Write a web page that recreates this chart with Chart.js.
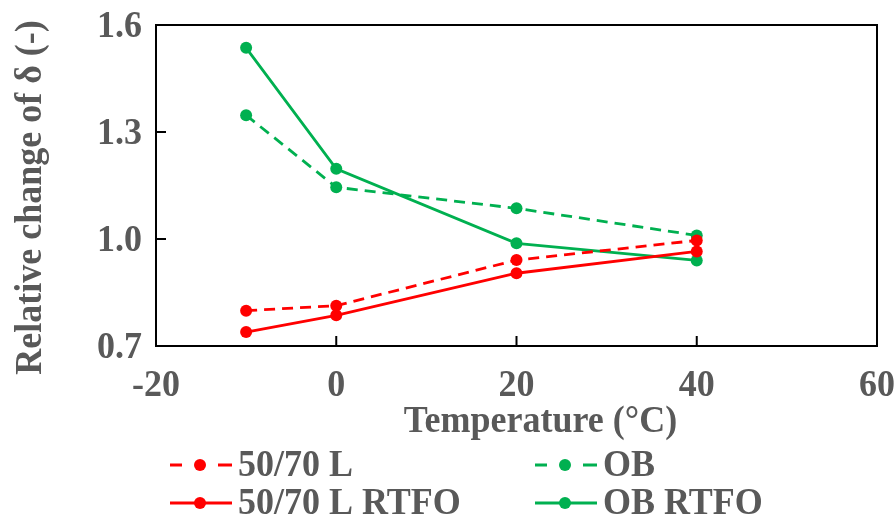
<!DOCTYPE html>
<html>
<head>
<meta charset="utf-8">
<script src="https://cdn.jsdelivr.net/npm/chart.js@4.4.1/dist/chart.umd.min.js"></script>
<style>
  html, body { margin: 0; padding: 0; background: #fff; }
  #wrap { width: 894px; height: 522px; }
</style>
</head>
<body>
<div id="wrap"><canvas id="grafico" width="894" height="522"></canvas></div>
<script>
// Temperaturas (°C)
const temperaturas = [-10, 0, 20, 40];

// Cambio relativo de delta
const l5070 = [0.799, 0.813, 0.941, 0.996];
const l5070Rtfo = [0.739, 0.786, 0.904, 0.965];
const ob = [1.347, 1.145, 1.086, 1.010];
const obRtfo = [1.536, 1.197, 0.988, 0.940];

const etiquetas = ['50/70 L', 'OB', '50/70 L RTFO', 'OB RTFO'];
const ticksX = [-20, 0, 20, 40, 60];
const ticksY = [0.7, 1.0, 1.3, 1.6];
const tituloX = 'Temperature (°C)';
const tituloY = 'Relative change of δ (-)';

const ROJO = '#ff0000';
const VERDE = '#00b050';
const GRIS = '#595959';
const FUENTE = 'bold 36px "Liberation Serif", "Times New Roman", serif';

function puntos(valores) {
    return temperaturas.map((t, i) => ({ x: t, y: valores[i] }));
}

function serie(label, valores, color, dash) {
    return {
        label: label,
        data: puntos(valores),
        borderColor: color,
        backgroundColor: color,
        borderWidth: 2.8,
        borderDash: dash,
        pointRadius: 6,
        pointHoverRadius: 6,
        pointBorderWidth: 0,
        tension: 0,
        fill: false
    };
}

// texto un poco estirado en vertical, como en la figura original
function texto(ctx, str, x, y, align, rot) {
    ctx.save();
    ctx.translate(x, y);
    if (rot) ctx.rotate(rot);
    ctx.scale(1, 1.08);
    ctx.font = FUENTE;
    ctx.fillStyle = GRIS;
    ctx.textAlign = align;
    ctx.textBaseline = 'middle';
    ctx.fillText(str, 0, 0);
    ctx.restore();
}

// marco, ticks hacia adentro, etiquetas y titulos
const ejesPlugin = {
    id: 'ejes',
    afterDatasetsDraw(chart) {
        const ctx = chart.ctx;
        const a = chart.chartArea;
        const sx = chart.scales.x;
        const sy = chart.scales.y;
        ctx.save();
        ctx.strokeStyle = '#000';
        ctx.lineWidth = 2;
        ctx.strokeRect(a.left, a.top, a.right - a.left, a.bottom - a.top);
        ticksX.forEach(v => {
            const px = sx.getPixelForValue(v);
            ctx.beginPath();
            ctx.moveTo(px, a.bottom);
            ctx.lineTo(px, a.bottom - 10);
            ctx.stroke();
            texto(ctx, String(v), px, a.bottom + 40, 'center');
        });
        ticksY.forEach(v => {
            const py = sy.getPixelForValue(v);
            ctx.beginPath();
            ctx.moveTo(a.left, py);
            ctx.lineTo(a.left + 10, py);
            ctx.stroke();
            texto(ctx, v.toFixed(1), a.left - 14, py + 2, 'right');
        });
        ctx.restore();
        texto(ctx, tituloX, (a.left + a.right) / 2 + 24, a.bottom + 76, 'center');
        texto(ctx, tituloY, 31, (a.top + a.bottom) / 2 + 12, 'center', -Math.PI / 2);
    }
};

// leyenda de dos columnas
const leyendaPlugin = {
    id: 'leyenda',
    afterDraw(chart) {
        const ctx = chart.ctx;
        const cols = [170, 535];
        const filas = [465, 503];
        chart.data.datasets.forEach((ds, i) => {
            const x0 = cols[i % 2];
            const y = filas[Math.floor(i / 2)];
            ctx.save();
            ctx.strokeStyle = ds.borderColor;
            ctx.lineWidth = ds.borderWidth;
            ctx.beginPath();
            if (ds.borderDash.length) {
                ctx.moveTo(x0, y); ctx.lineTo(x0 + 12, y);
                ctx.moveTo(x0 + 48, y); ctx.lineTo(x0 + 62, y);
            } else {
                ctx.moveTo(x0, y); ctx.lineTo(x0 + 62, y);
            }
            ctx.stroke();
            ctx.fillStyle = ds.backgroundColor;
            ctx.beginPath();
            ctx.arc(x0 + 30, y, 6, 0, Math.PI * 2);
            ctx.fill();
            ctx.restore();
            texto(ctx, ds.label, x0 + 68, y + 1, 'left');
        });
    }
};

new Chart(document.getElementById('grafico').getContext('2d'), {
    type: 'line',
    data: {
        datasets: [
            serie(etiquetas[0], l5070, ROJO, [11, 7]),
            serie(etiquetas[1], ob, VERDE, [11, 7]),
            serie(etiquetas[2], l5070Rtfo, ROJO, []),
            serie(etiquetas[3], obRtfo, VERDE, [])
        ]
    },
    options: {
        responsive: false,
        animation: false,
        layout: { padding: { top: 25, right: 17, bottom: 168, left: 148 } },
        plugins: {
            legend: { display: false },
            tooltip: { enabled: false }
        },
        scales: {
            x: {
                type: 'linear',
                min: -20,
                max: 60,
                afterBuildTicks: s => { s.ticks = ticksX.map(v => ({ value: v })); },
                grid: { display: false },
                border: { display: false },
                ticks: { display: false }
            },
            y: {
                type: 'linear',
                min: 0.7,
                max: 1.6,
                afterBuildTicks: s => { s.ticks = ticksY.map(v => ({ value: v })); },
                grid: { display: false },
                border: { display: false },
                ticks: { display: false }
            }
        }
    },
    plugins: [ejesPlugin, leyendaPlugin]
});
</script>
</body>
</html>
